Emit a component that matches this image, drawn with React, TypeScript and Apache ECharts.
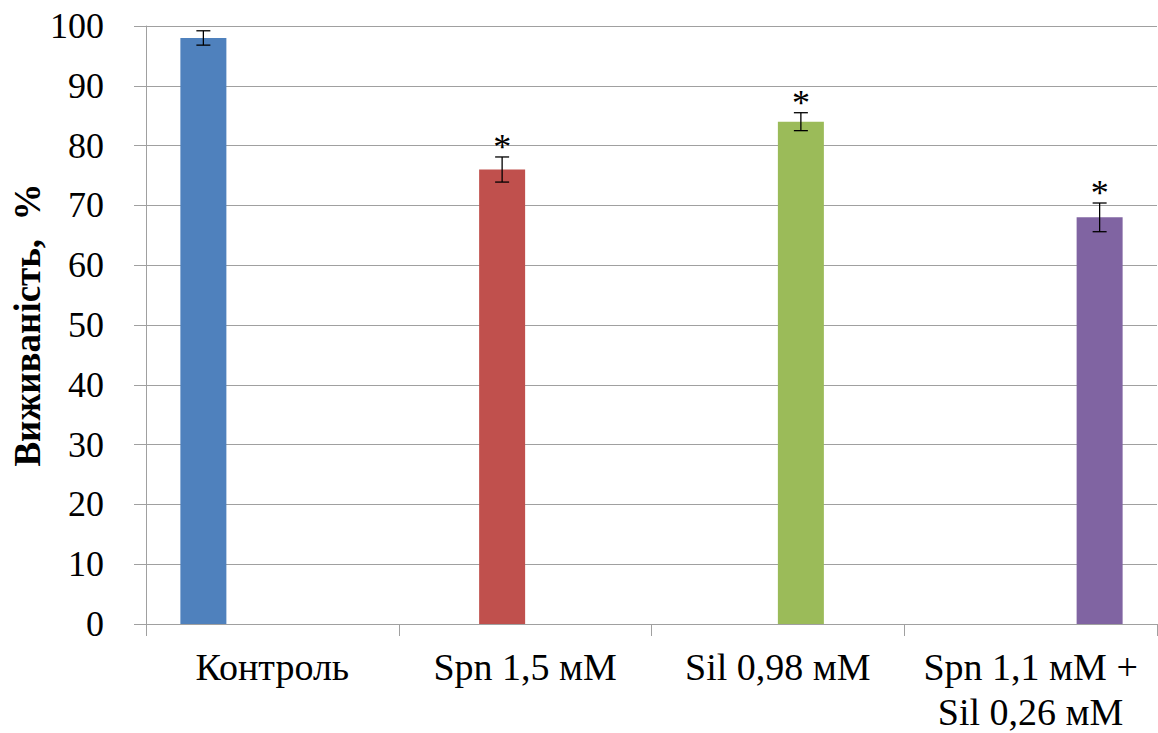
import React, { useEffect, useRef } from "react";
import * as echarts from "echarts";

const categories = ["Контроль", "Spn 1,5 мМ", "Sil 0,98 мМ", "Spn 1,1 мМ +\nSil 0,26 мМ"];
const seriesNames = ["Контроль", "Spn 1,5 мМ", "Sil 0,98 мМ", "Spn 1,1 мМ + Sil 0,26 мМ"];
const values = [98, 76, 84, 68];
const errors = [1.2, 2.1, 1.5, 2.4];
const significant = [false, true, true, true];
const colors = ["#4F81BD", "#C0504D", "#9BBB59", "#8064A2"];
const yTicks = { min: 0, max: 100, interval: 10 };

const FONT = "Liberation Serif";
const BAR_W = 46;

export default function App() {
  const ref = useRef<HTMLDivElement>(null);
  useEffect(() => {
    document.body.style.margin = "0";
    const chart = echarts.init(ref.current!, null, { renderer: "svg" });
    const barSeries = values.map((v, i) => ({
      name: seriesNames[i],
      type: "bar",
      barWidth: BAR_W,
      barGap: "0%",
      itemStyle: { color: colors[i] },
      data: categories.map((_, j) => (j === i ? v : "-")),
    }));
    const errData = values.map((v, i) => [i, v - errors[i], v + errors[i], significant[i] ? 1 : 0]);
    chart.setOption({
      animation: false,
      textStyle: { fontFamily: FONT },
      grid: {
        left: 146,
        right: 1,
        top: 26,
        bottom: 109,
        containLabel: false,
        outerBoundsMode: "none",
      },
      xAxis: {
        type: "category",
        data: categories,
        axisLine: { lineStyle: { color: "#A0A0A0", width: 1 } },
        axisTick: { show: true, length: 12, lineStyle: { color: "#A0A0A0" } },
        axisLabel: {
          color: "#000",
          fontFamily: FONT,
          fontSize: 38,
          lineHeight: 45,
          margin: 20,
          interval: 0,
        },
      },
      yAxis: {
        type: "value",
        min: yTicks.min,
        max: yTicks.max,
        interval: yTicks.interval,
        name: "Виживаність,  %",
        nameLocation: "middle",
        nameGap: 100,
        nameMoveOverlap: false,
        nameTextStyle: { color: "#000", fontFamily: FONT, fontSize: 37, fontWeight: "bold" },
        axisLine: { show: true, lineStyle: { color: "#A0A0A0", width: 1 } },
        axisTick: { show: true, length: 12, lineStyle: { color: "#A0A0A0" } },
        splitLine: { show: true, lineStyle: { color: "#A0A0A0", width: 1 } },
        axisLabel: { color: "#000", fontFamily: FONT, fontSize: 36, margin: 42 },
      },
      series: [
        ...barSeries,
        {
          type: "custom",
          z: 10,
          data: errData,
          renderItem: (params: any, api: any) => {
            const idx = api.value(0);
            const lo = api.coord([idx, api.value(1)]);
            const hi = api.coord([idx, api.value(2)]);
            const x = lo[0] + (idx - 1.5) * BAR_W;
            const cap = 7;
            const style = { stroke: "#000", lineWidth: 1.3 };
            const children: any[] = [
              { type: "line", shape: { x1: x, y1: lo[1], x2: x, y2: hi[1] }, style },
              { type: "line", shape: { x1: x - cap, y1: lo[1], x2: x + cap, y2: lo[1] }, style },
              { type: "line", shape: { x1: x - cap, y1: hi[1], x2: x + cap, y2: hi[1] }, style },
            ];
            if (api.value(3) === 1) {
              children.push({
                type: "text",
                x: x,
                y: hi[1] - 10,
                style: {
                  text: "*",
                  fill: "#000",
                  fontFamily: FONT,
                  fontSize: 36,
                  align: "center",
                  verticalAlign: "middle",
                },
              });
            }
            return { type: "group", children };
          },
        },
      ],
    });
    return () => chart.dispose();
  }, []);
  return (
    <div
      ref={ref}
      style={{ position: "absolute", left: 0, top: 0, width: 1158, height: 733 }}
    />
  );
}
